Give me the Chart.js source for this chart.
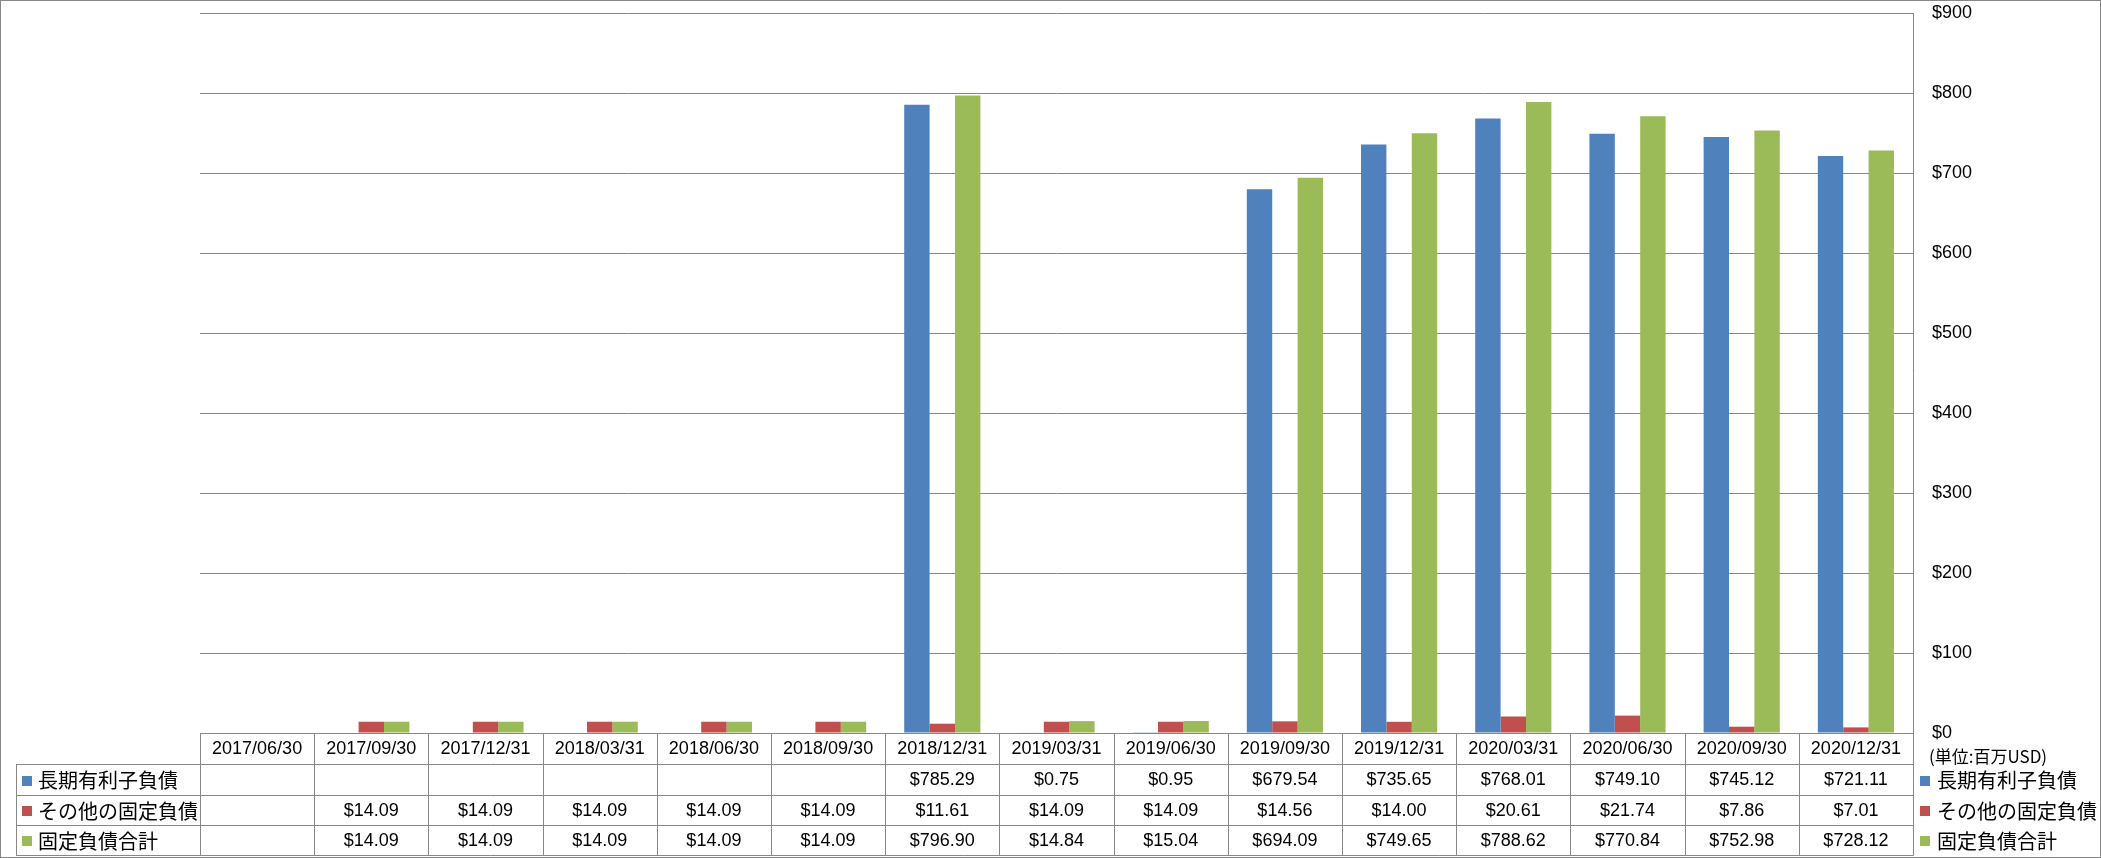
<!DOCTYPE html>
<html>
<head>
<meta charset="utf-8">
<script src="https://cdn.jsdelivr.net/npm/chart.js@4/dist/chart.umd.min.js"></script>
<style>
  html, body { margin: 0; padding: 0; background: #fff; overflow: hidden; }
  #wrap { width: 2101px; height: 858px; }
</style>
</head>
<body>
<div id="wrap"><canvas id="c" width="2101" height="858"></canvas></div>
<script>
// ---- data ----
const categories = ['2017/06/30','2017/09/30','2017/12/31','2018/03/31','2018/06/30','2018/09/30','2018/12/31','2019/03/31','2019/06/30','2019/09/30','2019/12/31','2020/03/31','2020/06/30','2020/09/30','2020/12/31'];
const seriesNames = ['長期有利子負債', 'その他の固定負債', '固定負債合計'];
const longTermDebt = [null, null, null, null, null, null, 785.29, 0.75, 0.95, 679.54, 735.65, 768.01, 749.10, 745.12, 721.11];
const otherFixedLiab = [null, 14.09, 14.09, 14.09, 14.09, 14.09, 11.61, 14.09, 14.09, 14.56, 14.00, 20.61, 21.74, 7.86, 7.01];
const totalFixedLiab = [null, 14.09, 14.09, 14.09, 14.09, 14.09, 796.90, 14.84, 15.04, 694.09, 749.65, 788.62, 770.84, 752.98, 728.12];
const yMin = 0, yMax = 900, yStep = 100;
const unitLabel = '(単位:百万USD)';

// ---- style ----
const colors = ['#4F81BD', '#C0504D', '#9BBB59'];
const lineColor = '#878787';
const numFont = '18px "Liberation Sans", Arial, sans-serif';
const jpFont = '20px "Noto Sans CJK JP", sans-serif';
const seriesData = [longTermDebt, otherFixedLiab, totalFixedLiab];

const fmt = v => (v === null || v === undefined) ? '' : '$' + v.toFixed(2);

const bgPlugin = {
  id: 'bg',
  beforeDraw(chart) {
    const ctx = chart.ctx;
    ctx.save();
    ctx.fillStyle = '#fff';
    ctx.fillRect(0, 0, chart.width, chart.height);
    ctx.restore();
  }
};

const tablePlugin = {
  id: 'dataTable',
  afterDraw(chart) {
    const ctx = chart.ctx;
    const ca = chart.chartArea;
    const x = chart.scales.x;
    const n = categories.length;
    const cw = x.getPixelForValue(1) - x.getPixelForValue(0);
    const edge = i => x.getPixelForValue(i) - cw / 2;
    const top = Math.round(ca.bottom);
    const rows = [top, top + 31, top + 62, top + 92, top + 122];
    const legendLeft = 16;
    const rightEdge = edge(n);

    ctx.save();
    ctx.strokeStyle = lineColor;
    ctx.lineWidth = 1;
    ctx.beginPath();
    ctx.moveTo(Math.round(edge(0)), rows[0] + 0.5);
    ctx.lineTo(Math.round(rightEdge) + 0.5, rows[0] + 0.5);
    for (let r = 1; r < rows.length; r++) {
      ctx.moveTo(legendLeft, rows[r] + 0.5);
      ctx.lineTo(Math.round(rightEdge) + 0.5, rows[r] + 0.5);
    }
    ctx.moveTo(legendLeft + 0.5, rows[1]);
    ctx.lineTo(legendLeft + 0.5, rows[4] + 0.5);
    for (let i = 0; i <= n; i++) {
      const xx = Math.round(edge(i)) + 0.5;
      ctx.moveTo(xx, rows[0]);
      ctx.lineTo(xx, rows[4] + 0.5);
    }
    ctx.stroke();

    ctx.fillStyle = '#000';
    ctx.textAlign = 'center';
    ctx.textBaseline = 'middle';
    ctx.font = numFont;
    categories.forEach((c, i) => {
      ctx.fillText(c, x.getPixelForValue(i), (rows[0] + rows[1]) / 2 + 1);
    });
    seriesData.forEach((arr, s) => {
      const cy = (rows[s + 1] + rows[s + 2]) / 2 + 1;
      arr.forEach((v, i) => {
        const t = fmt(v);
        if (t) ctx.fillText(t, x.getPixelForValue(i), cy);
      });
    });
    ctx.textAlign = 'left';
    seriesNames.forEach((name, s) => {
      const cy = (rows[s + 1] + rows[s + 2]) / 2;
      ctx.fillStyle = colors[s];
      ctx.fillRect(22, Math.round(cy - 4), 10, 10);
      ctx.fillStyle = '#000';
      ctx.font = jpFont;
      ctx.fillText(name, 38, cy + 1);
    });
    const rx = Math.round(rightEdge);
    ctx.font = '17px "Noto Sans CJK JP", sans-serif';
    ctx.fillStyle = '#000';
    ctx.fillText(unitLabel, rx + 16, rows[0] + 24);
    seriesNames.forEach((name, s) => {
      const cy = (rows[s + 1] + rows[s + 2]) / 2;
      ctx.fillStyle = colors[s];
      ctx.fillRect(rx + 7, Math.round(cy - 4), 10, 10);
      ctx.fillStyle = '#000';
      ctx.font = jpFont;
      ctx.fillText(name, rx + 24, cy + 1);
    });
    ctx.strokeStyle = lineColor;
    ctx.strokeRect(0.5, 0.5, chart.width - 1, chart.height - 1);
    ctx.restore();
  }
};

new Chart(document.getElementById('c'), {
  type: 'bar',
  data: {
    labels: categories,
    datasets: seriesData.map((arr, s) => ({
      label: seriesNames[s],
      data: arr,
      backgroundColor: colors[s],
      borderWidth: 0,
      categoryPercentage: 0.667,
      barPercentage: 1.0
    }))
  },
  options: {
    responsive: false,
    animation: false,
    devicePixelRatio: 1,
    layout: { padding: { left: 200, top: 13, bottom: 125, right: 0 } },
    plugins: { legend: { display: false }, tooltip: { enabled: false } },
    scales: {
      x: { display: false },
      y: {
        position: 'right',
        min: yMin,
        max: yMax,
        ticks: {
          stepSize: yStep,
          padding: 19,
          color: '#000',
          font: { family: '"Liberation Sans", Arial, sans-serif', size: 18 },
          callback: v => '$' + v
        },
        grid: { color: lineColor, lineWidth: 1, drawTicks: false },
        border: { display: true, color: lineColor, width: 1 },
        afterFit: s => { s.width = 188; s.paddingTop = 0; s.paddingBottom = 0; }
      }
    }
  },
  plugins: [bgPlugin, tablePlugin]
});
</script>
</body>
</html>
